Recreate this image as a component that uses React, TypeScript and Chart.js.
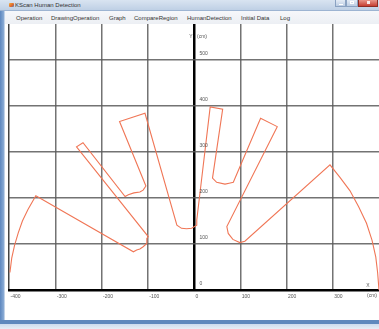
import React, { useEffect, useRef } from "react";
import { Chart, registerables } from "chart.js";

Chart.register(...registerables);

// Scanner contour (cm), swept from the left edge of the field to the right edge
const scanX = [
  -398, -394, -388, -380, -371, -359, -342,
  -131, -124, -117, -110, -102, -102, -99,
  -254, -240,
  -149, -142, -130, -117, -110, -104,
  -161, -106,
  -37, -27, -16, -5, 6, 6,
  35, 62,
  40, 49, 67, 76, 85,
  144, 180,
  71, 74, 84, 99, 110,
  294, 316, 337, 356, 373, 385, 393, 397, 400,
];
const scanY = [
  38, 70, 97, 124, 150, 175, 205,
  83, 87, 89, 94, 101, 112, 116,
  311, 320,
  203, 207, 211, 213, 217, 226,
  366, 384,
  141, 134, 133, 134, 141, 152,
  398, 393,
  243, 234, 230, 232, 234,
  373, 355,
  138, 123, 110, 103, 106,
  272, 244, 216, 181, 145, 108, 72, 38, 0,
];

const xTickValues = [-400, -300, -200, -100, 0, 100, 200, 300];
const xTickLabels = ["-400", "-300", "-200", "-100", "0", "100", "200", "300"];
const yTickValues = [0, 100, 200, 300, 400, 500];
const yTickLabels = ["0", "100", "200", "300", "400", "500"];

const menuItems = ["Operation", "DrawingOperation", "Graph", "CompareRegion", "HumanDetection", "Initial Data", "Log"];
const menuLeft = [16, 51, 109, 134, 187, 241, 280];

const FONT = "'Liberation Sans', Arial, sans-serif";

const axisText = {
  id: "axisText",
  afterDraw(chart: any) {
    const { ctx, chartArea, scales } = chart;
    const xs = scales.x;
    const ys = scales.y;
    const x0 = xs.getPixelForValue(0);
    ctx.save();
    ctx.font = `5px ${FONT}`;
    ctx.fillStyle = "#555";
    ctx.textBaseline = "middle";
    ctx.textAlign = "left";
    yTickValues.forEach((v, i) => {
      ctx.fillText(yTickLabels[i], x0 + 5.5, ys.getPixelForValue(v) - 6);
    });
    // axis names
    ctx.textAlign = "right";
    ctx.fillText("Y", x0 - 1.5, chartArea.top + 13);
    ctx.textAlign = "left";
    ctx.fillText("(cm)", x0 + 3, chartArea.top + 13);
    ctx.textAlign = "center";
    ctx.fillText("X", chartArea.right - 11, chartArea.bottom - 4.5);
    ctx.textAlign = "right";
    ctx.fillText("(cm)", chartArea.right - 2, chartArea.bottom + 5.5);
    ctx.restore();
  },
};

function ScanChart() {
  const ref = useRef<HTMLCanvasElement | null>(null);

  useEffect(() => {
    if (!ref.current) return;
    const points = scanX.map((x, i) => ({ x, y: scanY[i] }));
    const chart = new Chart(ref.current, {
      type: "scatter",
      data: {
        datasets: [
          {
            data: points,
            showLine: true,
            borderColor: "#f07656",
            borderWidth: 1.1,
            pointRadius: 0,
            tension: 0,
            fill: false,
          },
        ],
      },
      options: {
        animation: false,
        responsive: false,
        maintainAspectRatio: false,
        events: [],
        layout: { padding: { left: 4, right: 0, top: 0, bottom: 0 } },
        plugins: { legend: { display: false }, tooltip: { enabled: false } },
        scales: {
          x: {
            type: "linear",
            min: -400,
            max: 400,
            position: "bottom",
            afterBuildTicks: (s: any) => {
              s.ticks = xTickValues.map((v) => ({ value: v }));
            },
            afterFit: (s: any) => {
              s.height = 30;
            },
            grid: {
              drawTicks: false,
              color: (c: any) =>
                c.tick && c.tick.value === 0
                  ? "#000"
                  : c.tick && c.tick.value === -400
                  ? "#444"
                  : "rgba(90,90,90,0.85)",
              lineWidth: (c: any) => (c.tick && c.tick.value === 0 ? 2.5 : 1.5),
            },
            border: { display: true, color: "#000", width: 2.5 },
            ticks: {
              align: "start",
              labelOffset: 1.5,
              padding: 4,
              autoSkip: false,
              maxRotation: 0,
              color: "#555",
              font: { family: FONT, size: 5 },
              callback: (_v: any, i: number) => xTickLabels[i],
            },
          },
          y: {
            type: "linear",
            min: 0,
            max: 578,
            position: "left",
            afterBuildTicks: (s: any) => {
              s.ticks = yTickValues.map((v) => ({ value: v }));
            },
            afterFit: (s: any) => {
              s.width = 0;
            },
            grid: {
              drawTicks: false,
              color: (c: any) => (c.tick && c.tick.value === 0 ? "rgba(0,0,0,0)" : "rgba(90,90,90,0.85)"),
              lineWidth: 1.5,
            },
            border: { display: false },
            ticks: { display: false },
          },
        },
      } as any,
      plugins: [axisText],
    });
    return () => chart.destroy();
  }, []);

  return (
    <canvas
      ref={ref}
      width={374}
      height={296}
      style={{ position: "absolute", left: 5, top: 24, width: 374, height: 296, display: "block" }}
    />
  );
}

export default function App() {
  return (
    <div
      style={{
        position: "fixed",
        left: 0,
        top: 0,
        width: 379,
        height: 329,
        overflow: "hidden",
        background: "#fff",
        fontFamily: FONT,
      }}
    >
      {/* title bar */}
      <div
        style={{
          position: "absolute",
          left: 0,
          top: 0,
          width: 379,
          height: 10,
          background: "linear-gradient(#d9e4f1, #bfd0e5)",
          borderBottom: "1px solid #9db4d2",
        }}
      />
      <div
        style={{
          position: "absolute",
          left: 9,
          top: 3,
          width: 5,
          height: 4,
          background: "linear-gradient(135deg, #f5b23a, #e0672e 60%, #4d7fc0)",
          borderRadius: 1,
        }}
      />
      <div
        style={{
          position: "absolute",
          left: 15,
          top: 0,
          height: 11,
          lineHeight: "11px",
          fontSize: 6,
          color: "#333",
          whiteSpace: "nowrap",
        }}
      >
        KScan Human Detection
      </div>
      {/* caption buttons */}
      <div
        style={{
          position: "absolute",
          left: 335,
          top: 0,
          width: 11,
          height: 7,
          background: "linear-gradient(#e4ecf6, #bccde3)",
          border: "1px solid #8aa2c2",
          borderTop: "none",
          boxSizing: "border-box",
        }}
      >
        <div style={{ position: "absolute", left: 3, top: 4, width: 4, height: 1, background: "#fff" }} />
      </div>
      <div
        style={{
          position: "absolute",
          left: 346,
          top: 0,
          width: 12,
          height: 7,
          background: "linear-gradient(#e4ecf6, #bccde3)",
          border: "1px solid #8aa2c2",
          borderTop: "none",
          boxSizing: "border-box",
        }}
      >
        <div style={{ position: "absolute", left: 3, top: 1, width: 4, height: 3, border: "1px solid #fff", boxSizing: "border-box" }} />
      </div>
      <div
        style={{
          position: "absolute",
          left: 358,
          top: 0,
          width: 20,
          height: 7,
          background: "linear-gradient(#e8968a, #c63f32)",
          border: "1px solid #8d2c24",
          borderTop: "none",
          boxSizing: "border-box",
        }}
      >
        <div style={{ position: "absolute", left: 8, top: 1, width: 3, height: 3, background: "#fff", opacity: 0.85 }} />
      </div>
      {/* menu bar */}
      <div
        style={{
          position: "absolute",
          left: 0,
          top: 11,
          width: 379,
          height: 13,
          background: "linear-gradient(#f6f7fa, #eceff4)",
        }}
      >
        {menuItems.map((m, i) => (
          <div
            key={m}
            style={{
              position: "absolute",
              left: menuLeft[i],
              top: 0,
              height: 13,
              lineHeight: "14px",
              fontSize: 6,
              color: "#333",
              whiteSpace: "nowrap",
            }}
          >
            {m}
          </div>
        ))}
      </div>
      {/* left frame */}
      <div
        style={{
          position: "absolute",
          left: 0,
          top: 11,
          width: 5,
          height: 318,
          background: "linear-gradient(90deg, #5d87bf, #86a8d3 70%, #dfe8f3)",
        }}
      />
      <ScanChart />
      {/* bottom frame */}
      <div style={{ position: "absolute", left: 0, top: 320, width: 379, height: 4, background: "#5f88bd" }} />
      <div style={{ position: "absolute", left: 0, top: 324, width: 379, height: 5, background: "linear-gradient(#cddcee, #e6edf6)" }} />
    </div>
  );
}
